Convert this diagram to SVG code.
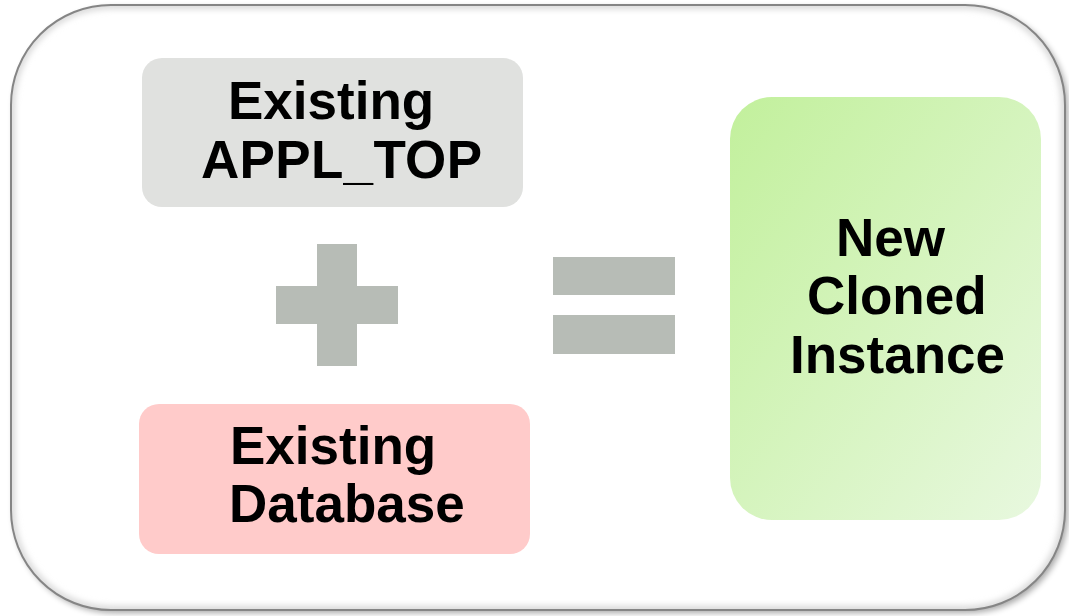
<svg xmlns="http://www.w3.org/2000/svg" width="1069" height="616" viewBox="0 0 1069 616">
<defs>
<linearGradient id="gGreen" x1="0" y1="0" x2="1" y2="1">
<stop offset="0" stop-color="#C2F09C"/>
<stop offset="1" stop-color="#E8F8DF"/>
</linearGradient>
<filter id="outerShadow" x="-5%" y="-5%" width="110%" height="110%">
<feGaussianBlur in="SourceAlpha" stdDeviation="3"/>
<feOffset dx="3" dy="3" result="b"/>
<feComponentTransfer><feFuncA type="linear" slope="0.35"/></feComponentTransfer>
<feMerge><feMergeNode/><feMergeNode in="SourceGraphic"/></feMerge>
</filter>
<filter id="innerBlur" x="-5%" y="-5%" width="110%" height="110%">
<feGaussianBlur stdDeviation="3"/>
</filter>
<clipPath id="frameClip"><rect x="11" y="5" width="1054" height="605" rx="100" ry="100"/></clipPath>
<style>
.lbl{font-family:"Liberation Sans",Arial,sans-serif;font-weight:bold;font-size:53px;fill:#000}
.op{fill:#B7BCB6}
</style>
</defs>
<g id="frame">
<rect x="11" y="5" width="1054" height="605" rx="100" ry="100" fill="#FFFFFF" filter="url(#outerShadow)"/>
<g clip-path="url(#frameClip)">
<rect x="11" y="5" width="1054" height="605" rx="100" ry="100" fill="none" stroke="#D8D8D8" stroke-width="8" filter="url(#innerBlur)"/>
</g>
<rect x="11" y="5" width="1054" height="605" rx="100" ry="100" fill="none" stroke="#858585" stroke-width="2"/>
</g>
<g id="appl_top">
<rect x="142" y="58" width="381" height="149" rx="20" ry="20" fill="#E0E1DF"/>
<text class="lbl" x="228" y="119">Existing</text>
<text class="lbl" x="201" y="178" textLength="281" lengthAdjust="spacing">APPL_TOP</text>
</g>
<g id="plus">
<rect class="op" x="317" y="244" width="40" height="122"/>
<rect class="op" x="276" y="286" width="122" height="38"/>
</g>
<g id="database">
<rect x="139" y="404" width="391" height="150" rx="20" ry="20" fill="#FFCBCA"/>
<text class="lbl" x="230" y="464">Existing</text>
<text class="lbl" x="229" y="522">Database</text>
</g>
<g id="equals">
<rect class="op" x="553" y="257" width="122" height="38"/>
<rect class="op" x="553" y="315" width="122" height="39"/>
</g>
<g id="clone">
<rect x="730" y="97" width="311" height="423" rx="42" ry="42" fill="url(#gGreen)"/>
<text class="lbl" x="836" y="256">New</text>
<text class="lbl" x="807" y="314">Cloned</text>
<text class="lbl" x="790" y="373">Instance</text>
</g>
<g id="connectors"/>
</svg>
